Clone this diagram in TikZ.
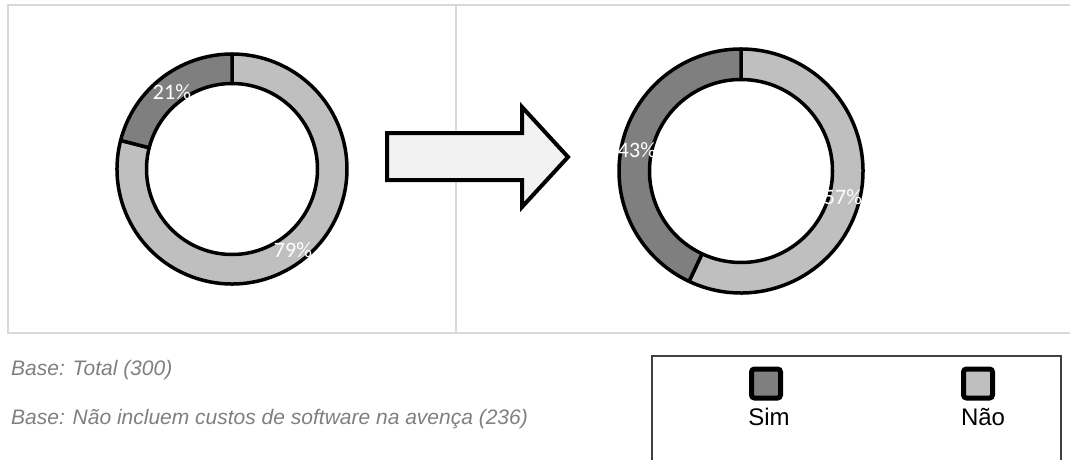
\documentclass[tikz,border=0pt]{standalone}
\usepackage{fontspec}
\setmainfont{Liberation Sans}
\newfontfamily\pctfont{Carlito}
\definecolor{simcol}{HTML}{7F7F7F}
\definecolor{naocol}{HTML}{BFBFBF}
\definecolor{framecol}{HTML}{D9D9D9}
\definecolor{arrowfill}{HTML}{F2F2F2}
\definecolor{basecol}{HTML}{7F7F7F}
\definecolor{legcol}{HTML}{404040}
\tikzset{
  frameline/.style={draw=framecol, line width=2pt},
  seg/.style={draw=black, line width=3.5pt, line join=round},
  pct/.style={text=white, font=\pctfont\fontsize{22}{26}\selectfont, inner sep=0pt},
  basetxt/.style={text=basecol, font=\itshape\fontsize{21}{25}\selectfont, anchor=base west, inner sep=0pt},
  legsq/.style={draw=black, line width=5pt, rounded corners=3pt, minimum size=29pt, inner sep=0pt},
  legtxt/.style={font=\fontsize{24}{28}\selectfont, anchor=base, inner sep=0pt},
  bigarrow/.style={draw=black, fill=arrowfill, line width=4pt, line join=miter}
}
\begin{document}
\begin{tikzpicture}[x=1pt, y=-1pt]
\useasboundingbox (0,0) rectangle (1070,460);
% panel frames
\draw[frameline] (1070,5.5) -- (8,5.5) -- (8,333) -- (1070,333);
\draw[frameline] (456,5.5) -- (456,333);
% donut 1
\begin{scope}[shift={(232,169)}, yscale=-1]
  \draw[seg, fill=naocol] (165.6:115) arc[start angle=165.6, end angle=450, radius=115]
     -- (90:85.5) arc[start angle=450, end angle=165.6, radius=85.5] -- cycle;
  \draw[seg, fill=simcol] (90:115) arc[start angle=90, end angle=165.6, radius=115]
     -- (165.6:85.5) arc[start angle=165.6, end angle=90, radius=85.5] -- cycle;
\end{scope}
\node[pct] (p21) at (172,92) {21\%};
\node[pct] (p79) at (293,250) {79\%};
% donut 2
\begin{scope}[shift={(741,171)}, yscale=-1]
  \draw[seg, fill=naocol] (244.8:122) arc[start angle=244.8, end angle=450, radius=122]
     -- (90:91.5) arc[start angle=450, end angle=244.8, radius=91.5] -- cycle;
  \draw[seg, fill=simcol] (90:122) arc[start angle=90, end angle=244.8, radius=122]
     -- (244.8:91.5) arc[start angle=244.8, end angle=90, radius=91.5] -- cycle;
\end{scope}
\node[pct] (p43) at (637,150) {43\%};
\node[pct] (p57) at (843,197) {57\%};
% arrow
\draw[bigarrow] (387,133) -- (522,133) -- (522,107) -- (568,157) -- (522,207) -- (522,180) -- (387,180) -- cycle;
% base texts
\node[basetxt] (b1) at (11,375) {Base: Total (300)};
\node[basetxt] (b2) at (11,424) {Base: Não incluem custos de software na avença (236)};
% legend
\draw[draw=legcol, line width=1.5pt] (652,462) -- (652,356) -- (1061,356) -- (1061,462);
\node[legsq, fill=simcol] (sqsim) at (766,383.5) {};
\node[legsq, fill=naocol] (sqnao) at (978,383.5) {};
\node[legtxt] (tsim) at (769,425) {Sim};
\node[legtxt] (tnao) at (983,425) {Não};
\end{tikzpicture}
\end{document}
